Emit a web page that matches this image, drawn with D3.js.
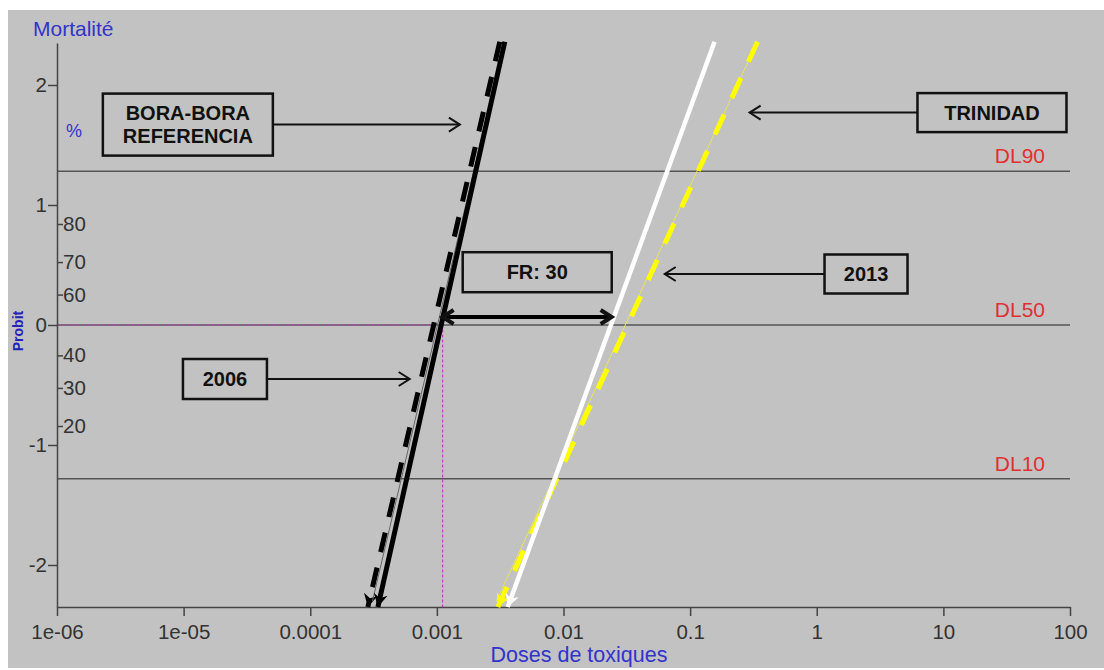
<!DOCTYPE html>
<html>
<head>
<meta charset="utf-8">
<script src="https://cdn.jsdelivr.net/npm/d3@7"></script>
<style>
  body { margin: 0; background: #fff; }
  svg { display: block; font-family: "Liberation Sans", Arial, sans-serif; }
  .axis path, .axis line { stroke: #444; stroke-width: 1.5; }
  .axis text { fill: #333; font-size: 20.5px; font-family: "Liberation Sans", Arial, sans-serif; }
</style>
</head>
<body>
<svg width="1104" height="670"></svg>
<script>
// x axis (doses, log scale)
var doseTicks = [1e-6, 1e-5, 1e-4, 1e-3, 1e-2, 1e-1, 1, 10, 100];
var doseLabels = ["1e-06", "1e-05", "0.0001", "0.001", "0.01", "0.1", "1", "10", "100"];

// y axis (probit) and the mortality % scale next to it
var probitTicks = [-2, -1, 0, 1, 2];
var probitLabels = ["-2", "-1", "0", "1", "2"];
var pctLabels = [20, 30, 40, 60, 70, 80];
var pctProbit = [-0.8416, -0.5244, -0.2533, 0.2533, 0.5244, 0.8416];

// reference levels
var dlNames = ["DL10", "DL50", "DL90"];
var dlProbit = [-1.2816, 0, 1.2816];

// regression lines, [top, bottom] (arrow points to bottom)
var bora2006 = [{dose: 3.44e-3, probit: 2.36}, {dose: 3.42e-4, probit: -2.35}];
var boraRef = [{dose: 3.14e-3, probit: 2.36}, {dose: 2.85e-4, probit: -2.35}];
var boraFit = [{dose: 3.30e-3, probit: 2.30}, {dose: 3.10e-4, probit: -2.30}];
var trin2013 = [{dose: 0.156, probit: 2.36}, {dose: 3.63e-3, probit: -2.35}];
var trinRef = [{dose: 0.341, probit: 2.36}, {dose: 3.03e-3, probit: -2.35}];
var trinFit = [{dose: 0.320, probit: 2.30}, {dose: 2.95e-3, probit: -2.30}];

// LD50 of the Bora-Bora line, and the FR arrow end
var ld50Bora = 1.11e-3;
var ld50Trin = 0.024;

// annotation boxes: label lines, centre (dose, probit), arrow tip dose
var boxLabels = [["BORA-BORA", "REFERENCIA"], ["TRINIDAD"], ["2013"], ["FR: 30"], ["2006"]];
var boxDose = [1.08e-5, 24.2, 2.45, 6.2e-3, 2.12e-5];
var boxProbit = [1.67, 1.77, 0.425, 0.44, -0.45];
var arrowTip = [1.52e-3, 0.295, 0.063, null, 6.1e-4];

var svg = d3.select("svg");

svg.append("rect").attr("x", 8).attr("y", 10).attr("width", 1096).attr("height", 658).attr("fill", "#c2c2c2");

var x = d3.scaleLog().domain([1e-6, 100]).range([57, 1070]);
var y = d3.scaleLinear().domain([-2.35, 2.35]).range([607, 43]);

var defs = svg.append("defs");
function head(id, color) {
  defs.append("marker")
    .attr("id", id)
    .attr("viewBox", "-14 -8 16 16")
    .attr("markerUnits", "userSpaceOnUse")
    .attr("markerWidth", 16).attr("markerHeight", 16)
    .attr("refX", 0).attr("refY", 0)
    .attr("orient", "auto")
    .append("path")
    .attr("d", "M-13,-7 L0,0 L-13,7 L-9,0 Z")
    .attr("fill", color);
}
head("hBlack", "#000");
head("hWhite", "#fff");
head("hYellow", "#ffff00");

// DL lines
dlProbit.forEach(function(p, i) {
  svg.append("line")
    .attr("x1", x(1e-6)).attr("x2", x(100))
    .attr("y1", y(p)).attr("y2", y(p))
    .attr("stroke", "#555").attr("stroke-width", 1.5);
  svg.append("text")
    .attr("x", 1045).attr("y", y(p) - 8)
    .attr("text-anchor", "end")
    .attr("fill", "#e03030").attr("font-size", 21)
    .text(dlNames[i]);
});

// magenta guides at LD50
svg.append("path")
  .attr("d", "M" + x(1e-6) + "," + y(0) + "H" + x(ld50Bora) + "V" + y(-2.35))
  .attr("fill", "none").attr("stroke", "#c040c0").attr("stroke-width", 1.2)
  .attr("stroke-dasharray", "3,2");

// axes
svg.append("g").attr("class", "axis")
  .attr("transform", "translate(0," + y(-2.35) + ")")
  .call(d3.axisBottom(x).tickValues(doseTicks)
    .tickFormat(function(d, i) { return doseLabels[i]; })
    .tickSize(9).tickSizeOuter(0).tickPadding(8));

svg.append("g").attr("class", "axis")
  .attr("transform", "translate(" + x(1e-6) + ",0)")
  .call(d3.axisLeft(y).tickValues(probitTicks)
    .tickFormat(function(d, i) { return probitLabels[i]; })
    .tickSize(9).tickSizeOuter(0).tickPadding(1));

var pAxis = svg.append("g").attr("class", "axis")
  .attr("transform", "translate(" + x(1e-6) + ",0)")
  .call(d3.axisRight(y).tickValues(pctProbit)
    .tickFormat(function(d, i) { return pctLabels[i]; })
    .tickSize(6).tickPadding(0));
pAxis.select(".domain").remove();

svg.append("text").attr("x", 33).attr("y", 36)
  .attr("fill", "#3333cc").attr("font-size", 21).text("Mortalité");
svg.append("text").attr("x", 66).attr("y", 137)
  .attr("fill", "#3333cc").attr("font-size", 18).text("%");
svg.append("text")
  .attr("transform", "translate(23," + y(-0.05) + ") rotate(-90)")
  .attr("text-anchor", "middle")
  .attr("fill", "#2222bb").attr("font-size", 14).attr("font-weight", "bold")
  .text("Probit");
svg.append("text").attr("x", 579).attr("y", 662)
  .attr("text-anchor", "middle")
  .attr("fill", "#3333cc").attr("font-size", 21.5).text("Doses de toxiques");

// regression lines
var line = d3.line()
  .x(function(d) { return x(d.dose); })
  .y(function(d) { return y(d.probit); });

function draw(data, color, width, dash, marker) {
  var p = svg.append("path").datum(data)
    .attr("d", line)
    .attr("fill", "none")
    .attr("stroke", color)
    .attr("stroke-width", width);
  if (dash) p.attr("stroke-dasharray", dash);
  if (marker) p.attr("marker-end", "url(#" + marker + ")");
}
draw(boraRef, "#000", 5, "20,16", "hBlack");
draw(boraFit, "#666", 1, null, null);
draw(bora2006, "#000", 5, null, "hBlack");
draw(trinFit, "#e6e65a", 1, null, null);
draw(trinRef, "#ffff00", 5, "22,18", "hYellow");
draw(trin2013, "#fff", 4.5, null, "hWhite");

// annotation boxes and arrows
function chevron(px, py, dir, w) {
  svg.append("path")
    .attr("d", "M" + (px - dir * 11) + "," + (py - 7) + "L" + px + "," + py + "L" + (px - dir * 11) + "," + (py + 7))
    .attr("fill", "none").attr("stroke", "#111").attr("stroke-width", w)
    .attr("stroke-linejoin", "miter");
}

var boxW = [170, 149, 83, 149, 84];
var boxH = [62, 39, 39, 40, 40];
boxLabels.forEach(function(lines, i) {
  var cx = x(boxDose[i]), cy = y(boxProbit[i]);
  var g = svg.append("g");
  g.append("rect")
    .attr("x", cx - boxW[i] / 2).attr("y", cy - boxH[i] / 2)
    .attr("width", boxW[i]).attr("height", boxH[i])
    .attr("fill", "none").attr("stroke", "#111").attr("stroke-width", 2.5);
  lines.forEach(function(t, j) {
    g.append("text")
      .attr("x", cx).attr("y", cy + (j - (lines.length - 1) / 2) * 23 + 7)
      .attr("text-anchor", "middle")
      .attr("fill", "#111").attr("font-size", 20).attr("font-weight", "bold")
      .text(t);
  });
  if (arrowTip[i] !== null) {
    var tx = x(arrowTip[i]);
    var dir = tx > cx ? 1 : -1;
    var sx = cx + dir * boxW[i] / 2;
    svg.append("line")
      .attr("x1", sx).attr("x2", tx)
      .attr("y1", cy).attr("y2", cy)
      .attr("stroke", "#111").attr("stroke-width", 2);
    chevron(tx, cy, dir, 2);
  }
});

// FR double arrow
var fy = y(0.067);
svg.append("line")
  .attr("x1", x(ld50Bora) + 2).attr("x2", x(ld50Trin) - 2)
  .attr("y1", fy).attr("y2", fy)
  .attr("stroke", "#000").attr("stroke-width", 4);
chevron(x(ld50Bora), fy, -1, 4);
chevron(x(ld50Trin), fy, 1, 4);
</script>
</body>
</html>
